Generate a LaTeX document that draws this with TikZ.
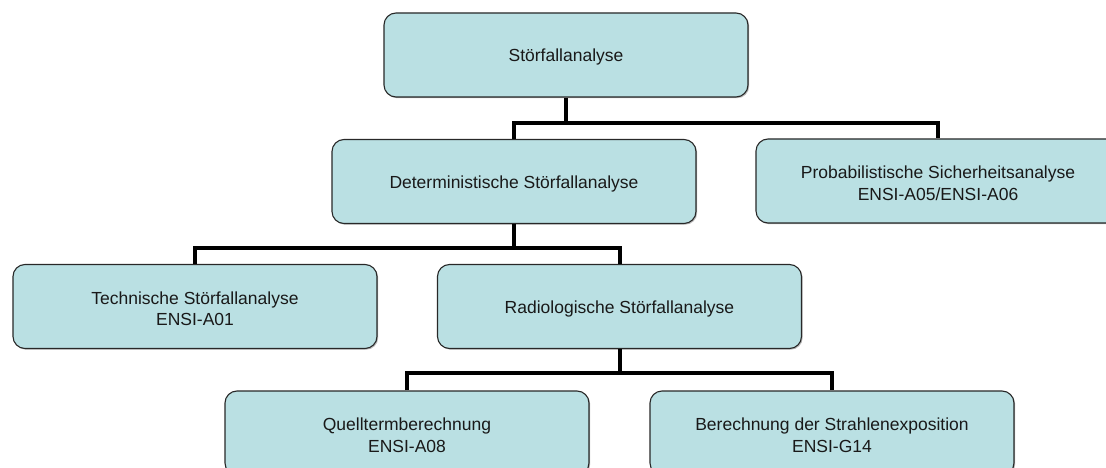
\documentclass[tikz,border=0pt]{standalone}
\usepackage{fontspec}
\setmainfont{Liberation Sans}
\usetikzlibrary{calc,shadows}
\definecolor{boxfill}{RGB}{186,224,227}
\definecolor{boxline}{RGB}{40,40,40}
\tikzset{
  box/.style={draw=boxline, line width=1.1pt, fill=boxfill, rounded corners=12pt,
    minimum width=364pt, minimum height=84pt, inner sep=0pt,
    drop shadow={shadow xshift=1.2pt, shadow yshift=-1.2pt, fill=black!45, opacity=0.6}},
  boxtext/.style={align=center, inner sep=0pt, yshift=-2.2pt,
    font=\fontsize{17.5}{21.7}\selectfont, text=black!90},
  conn/.style={draw=black, line width=4pt}
}
\begin{document}
\begin{tikzpicture}[x=1pt,y=-1pt]
\clip (0,0) rectangle (1106,468);
\fill[white] (0,0) rectangle (1106,468);
\node[box, label={[boxtext]center:Störfallanalyse}] (top) at (566,55) {};
\node[box, label={[boxtext]center:Deterministische Störfallanalyse}] (det) at (514,181.5) {};
\node[box, label={[boxtext]center:Probabilistische Sicherheitsanalyse\\ENSI-A05/ENSI-A06}] (prob) at (938,181) {};
\node[box, label={[boxtext]center:Technische Störfallanalyse\\ENSI-A01}] (tech) at (195,306.5) {};
\node[box, label={[boxtext]center:Radiologische Störfallanalyse}] (radio) at (619.5,306.5) {};
\node[box, label={[boxtext]center:Quelltermberechnung\\ENSI-A08}] (quell) at (407,433) {};
\node[box, label={[boxtext]center:Berechnung der Strahlenexposition\\ENSI-G14}] (ber) at (832,433) {};
\coordinate (b1) at (0,123);
\coordinate (b2) at (0,248);
\coordinate (b3) at (0,373);
\draw[conn] (top.south) -- (top.south |- b1);
\draw[conn] (det.north) |- (b1 -| prob.north) -- (prob.north);
\draw[conn] (det.south) -- (det.south |- b2);
\draw[conn] (tech.north) |- (b2 -| radio.north) -- (radio.north);
\draw[conn] (radio.south) -- (radio.south |- b3);
\draw[conn] (quell.north) |- (b3 -| ber.north) -- (ber.north);
\end{tikzpicture}
\end{document}
